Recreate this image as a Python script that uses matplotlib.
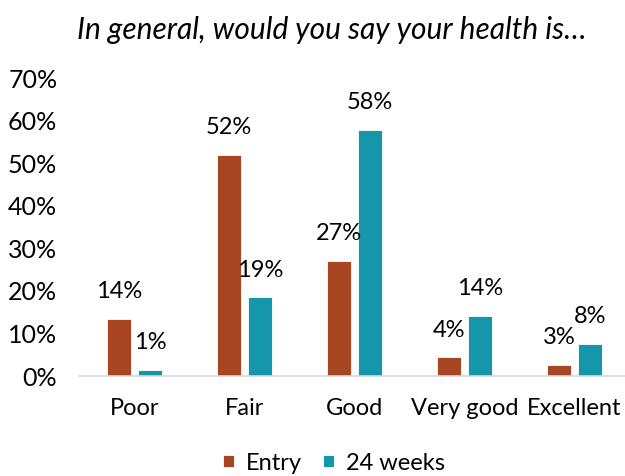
import matplotlib
matplotlib.use("Agg")
import matplotlib.pyplot as plt
import numpy as np

categories = ["Poor", "Fair", "Good", "Very good", "Excellent"]
entry = [13.5, 52.0, 27.0, 4.4, 2.6]
weeks24 = [1.4, 18.5, 57.8, 14.2, 7.6]
entry_labels = ["14%", "52%", "27%", "4%", "3%"]
weeks24_labels = ["1%", "19%", "58%", "14%", "8%"]
series_names = ["Entry", "24 weeks"]
yticks = [0, 10, 20, 30, 40, 50, 60, 70]

plt.rcParams['font.family'] = ['Lato', 'DejaVu Sans']

fig = plt.figure(figsize=(6.25, 4.76), dpi=100)
ax = fig.add_axes([79.5/625, 100/476, 550/625, 298/476])

x = np.arange(len(categories))
w = 0.22
off = 0.14
c1 = "#A84624"
c2 = "#1596AB"
b1 = ax.bar(x - off, entry, width=w, color=c1, edgecolor="white", linewidth=0.6, label=series_names[0])
b2 = ax.bar(x + off, weeks24, width=w, color=c2, edgecolor="white", linewidth=0.6, label=series_names[1])

for xi, v, lab in zip(x - off, entry, entry_labels):
    ax.annotate(lab, (xi, v), xytext=(0, 12), textcoords="offset points",
                ha="center", va="bottom", fontsize=17, color="#000000")
for xi, v, lab in zip(x + off, weeks24, weeks24_labels):
    ax.annotate(lab, (xi, v), xytext=(0, 12), textcoords="offset points",
                ha="center", va="bottom", fontsize=17, color="#000000")

ax.set_xlim(-0.5, 4.5)
ax.set_ylim(0, 70)
ax.set_yticks(yticks)
ax.set_yticklabels([f"{t}%" for t in yticks], fontsize=18)
ax.set_xticks(x)
ax.set_xticklabels(categories, fontsize=17)
ax.tick_params(axis="both", length=0)
ax.tick_params(axis="y", pad=16)
ax.tick_params(axis="x", pad=16)
for s in ["top", "right", "left"]:
    ax.spines[s].set_visible(False)
ax.spines["bottom"].set_color("#D9D9D9")
ax.spines["bottom"].set_linewidth(1.2)

fig.text(0.5 + 19/625, 1 - 30/476, "In general, would you say your health is…", ha="center", va="center",
         fontsize=21.5, style="italic")

fig.legend(handles=[b1, b2], labels=series_names, loc="center", bbox_to_anchor=(334/625, 1 - 463/476),
           ncol=2, frameon=False, fontsize=17, handlelength=0.45, handleheight=0.45,
           handletextpad=0.5, columnspacing=0.9)

fig.savefig("out.png", dpi=100)
